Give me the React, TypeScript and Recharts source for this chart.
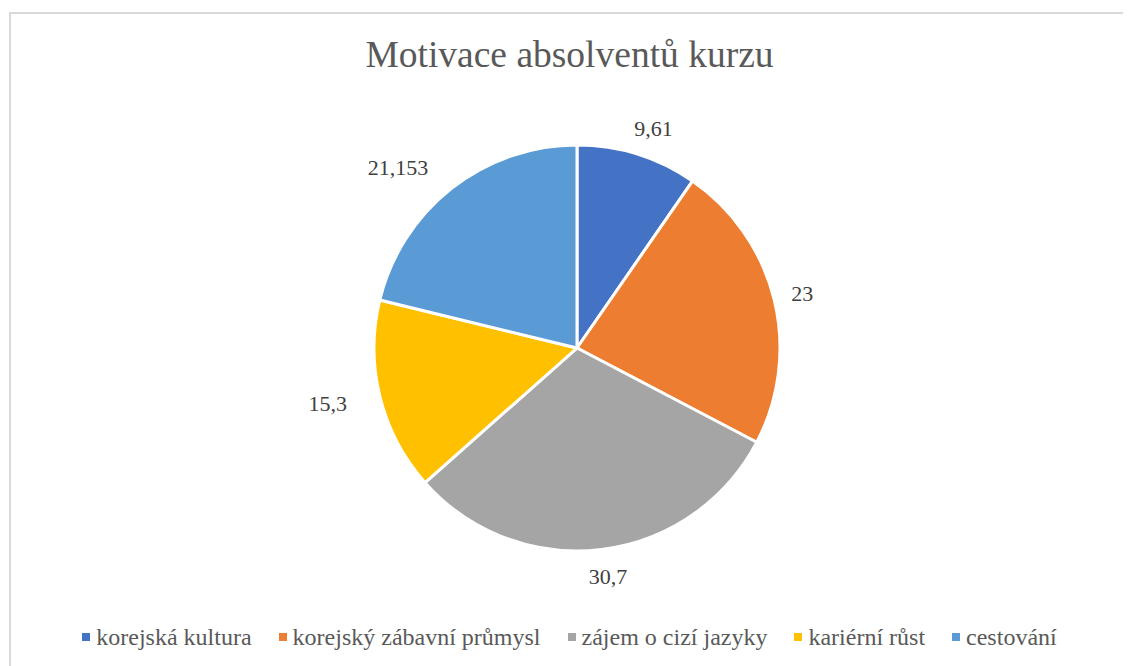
import React from "react";
import { PieChart, Pie, Cell } from "recharts";

const categories: string[] = [
  "korejská kultura",
  "korejský zábavní průmysl",
  "zájem o cizí jazyky",
  "kariérní růst",
  "cestování",
];
const values: number[] = [9.61, 23, 30.7, 15.3, 21.153];
const colors: string[] = ["#4472C4", "#ED7D31", "#A5A5A5", "#FFC000", "#5B9BD5"];
const title = "Motivace absolventů kurzu";

const data = categories.map((name, i) => ({ name, value: values[i] }));

const RAD = Math.PI / 180;
const LABEL_FONT = 22;
const SERIF = "serif";

const fmt = (v: number) => String(v).replace(".", ",");

const textWidth = (t: string) =>
  t.split("").reduce((s, ch) => s + (ch === "," ? 0.25 : 0.5), 0) * LABEL_FONT;

const renderLabel = (props: any) => {
  const { cx, cy, midAngle, outerRadius, value } = props;
  const text = fmt(value);
  const w = textWidth(text);
  const ux = Math.cos(-midAngle * RAD);
  const uy = Math.sin(-midAngle * RAD);
  const x = cx + ux * (outerRadius - 4 + 1.5 * w);
  const y = cy + uy * (outerRadius + 27);
  return (
    <text
      x={x}
      y={y}
      textAnchor="middle"
      dominantBaseline="central"
      fill="#404040"
      fontSize={LABEL_FONT}
      style={{ fontFamily: SERIF }}
    >
      {text}
    </text>
  );
};

export default function App() {
  return (
    <div style={{ fontFamily: SERIF }}>
      <div
        style={{
          position: "relative",
          width: 1123,
          height: 658,
          overflow: "hidden",
          background: "#ffffff",
        }}
      >
        <div
          style={{
            position: "absolute",
            left: 1,
            top: 4,
            width: 1140,
            height: 680,
            border: "2px solid #d9d9d9",
            boxSizing: "border-box",
          }}
        />
        <div
          style={{
            position: "absolute",
            left: 0,
            top: 28,
            width: 1123,
            textAlign: "center",
            fontSize: 37.5,
            lineHeight: "37px",
            color: "#595959",
          }}
        >
          {title}
        </div>
        <div style={{ position: "absolute", left: 0, top: 0 }}>
          <PieChart width={1123} height={658}>
            <Pie
              data={data}
              dataKey="value"
              nameKey="name"
              cx={564}
              cy={335}
              outerRadius={203}
              startAngle={90}
              endAngle={-270}
              stroke="#ffffff"
              strokeWidth={3}
              label={renderLabel}
              labelLine={false}
              isAnimationActive={false}
            >
              {data.map((d, i) => (
                <Cell key={d.name} fill={colors[i]} />
              ))}
            </Pie>
          </PieChart>
        </div>
        <div
          style={{
            position: "absolute",
            left: 0,
            top: 615,
            width: 1123,
            display: "flex",
            justifyContent: "center",
            alignItems: "center",
            fontSize: 24,
            lineHeight: "28px",
            color: "#595959",
            whiteSpace: "nowrap",
          }}
        >
          {categories.map((c, i) => (
            <div
              key={c}
              style={{
                display: "flex",
                alignItems: "center",
                marginLeft: i === 0 ? 0 : 27,
              }}
            >
              <span
                style={{
                  display: "inline-block",
                  width: 8,
                  height: 8,
                  background: colors[i],
                  marginRight: 6,
                }}
              />
              <span>{c}</span>
            </div>
          ))}
        </div>
      </div>
    </div>
  );
}
